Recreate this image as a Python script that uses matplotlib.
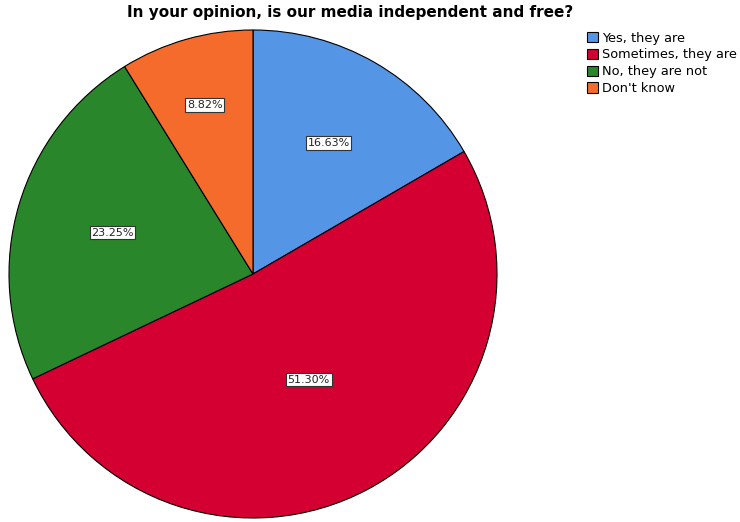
import matplotlib
matplotlib.use("Agg")
import matplotlib.pyplot as plt
from matplotlib.patches import Patch
import numpy as np

categories = ["Yes, they are", "Sometimes, they are", "No, they are not", "Don't know"]
percentages = [16.63, 51.30, 23.25, 8.82]
colors = ["#5595e5", "#d50032", "#2a862a", "#f46b2b"]
label_radius = [0.62, 0.49, 0.60, 0.72]

fig = plt.figure(figsize=(7.4, 5.22), dpi=100)
ax = fig.add_axes([9 / 740, 4 / 522, 488 / 740, 488 / 522])

wedges, _ = ax.pie(percentages, colors=colors, startangle=90, counterclock=False,
                   wedgeprops=dict(edgecolor="black", linewidth=0.8))
ax.set_aspect("equal")
ax.set_xlim(-1.0, 1.0)
ax.set_ylim(-1.0, 1.0)

for w, p, r in zip(wedges, percentages, label_radius):
    ang = np.deg2rad((w.theta1 + w.theta2) / 2)
    ax.text(r * np.cos(ang), r * np.sin(ang), f"{p:.2f}%", ha="center", va="center",
            fontsize=8, color="#222222",
            bbox=dict(boxstyle="square,pad=0.15", fc="white", ec="#333333", lw=0.8))

fig.text(350 / 740, 1 - 12 / 522, "In your opinion, is our media independent and free?",
         ha="center", va="center", fontsize=11, fontweight="bold")

handles = [Patch(facecolor=c, edgecolor="black", linewidth=0.8) for c in colors]
fig.legend(handles, categories, loc="upper left", bbox_to_anchor=(584 / 740, 1 - 29 / 522),
           frameon=False, fontsize=9.3, handlelength=0.9, handleheight=0.9,
           handletextpad=0.3, labelspacing=0.3, borderaxespad=0, borderpad=0.2)

fig.savefig("out.png", dpi=100, facecolor="white")
